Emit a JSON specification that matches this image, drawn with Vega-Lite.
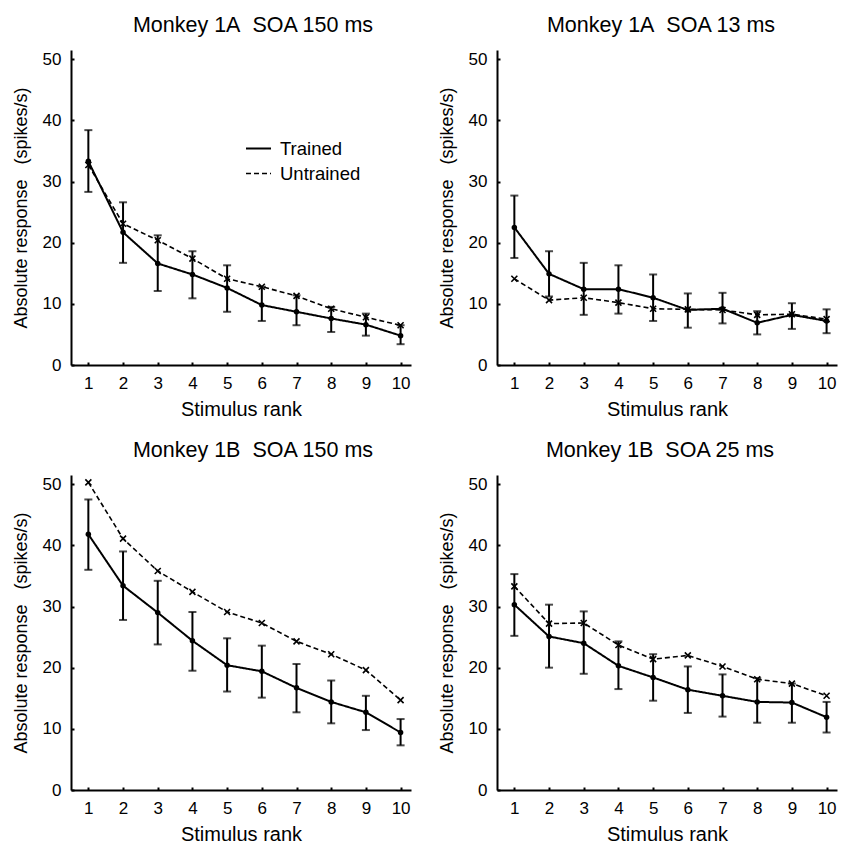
{
  "$schema": "https://vega.github.io/schema/vega-lite/v6.json",
  "background": "white",
  "padding": {"left": 12, "top": 14, "right": 2, "bottom": 2},
  "columns": 2,
  "spacing": {"row": 20, "column": 27},
  "data": {"values": [
    {"p":"a","x":1,"g":"Trained","y":33.3,"lo":28.3,"hi":38.4},
    {"p":"a","x":2,"g":"Trained","y":21.7,"lo":16.7,"hi":26.6},
    {"p":"a","x":3,"g":"Trained","y":16.6,"lo":12.1,"hi":21.2},
    {"p":"a","x":4,"g":"Trained","y":14.8,"lo":10.9,"hi":18.6},
    {"p":"a","x":5,"g":"Trained","y":12.6,"lo":8.7,"hi":16.3},
    {"p":"a","x":6,"g":"Trained","y":9.8,"lo":7.2,"hi":12.8},
    {"p":"a","x":7,"g":"Trained","y":8.7,"lo":6.5,"hi":11.4},
    {"p":"a","x":8,"g":"Trained","y":7.6,"lo":5.4,"hi":9.5},
    {"p":"a","x":9,"g":"Trained","y":6.6,"lo":4.8,"hi":8.4},
    {"p":"a","x":10,"g":"Trained","y":4.8,"lo":3.4,"hi":6.5},
    {"p":"a","x":1,"g":"Untrained","y":32.7},
    {"p":"a","x":2,"g":"Untrained","y":23.1},
    {"p":"a","x":3,"g":"Untrained","y":20.4},
    {"p":"a","x":4,"g":"Untrained","y":17.4},
    {"p":"a","x":5,"g":"Untrained","y":14.1},
    {"p":"a","x":6,"g":"Untrained","y":12.8},
    {"p":"a","x":7,"g":"Untrained","y":11.3},
    {"p":"a","x":8,"g":"Untrained","y":9.2},
    {"p":"a","x":9,"g":"Untrained","y":7.8},
    {"p":"a","x":10,"g":"Untrained","y":6.5},
    {"p":"b","x":1,"g":"Trained","y":22.5,"lo":17.5,"hi":27.7},
    {"p":"b","x":2,"g":"Trained","y":14.9,"lo":11.2,"hi":18.6},
    {"p":"b","x":3,"g":"Trained","y":12.4,"lo":8.2,"hi":16.7},
    {"p":"b","x":4,"g":"Trained","y":12.4,"lo":8.4,"hi":16.3},
    {"p":"b","x":5,"g":"Trained","y":11.0,"lo":7.2,"hi":14.8},
    {"p":"b","x":6,"g":"Trained","y":9.0,"lo":6.1,"hi":11.7},
    {"p":"b","x":7,"g":"Trained","y":9.2,"lo":6.8,"hi":11.8},
    {"p":"b","x":8,"g":"Trained","y":6.9,"lo":5.0,"hi":8.8},
    {"p":"b","x":9,"g":"Trained","y":8.2,"lo":5.9,"hi":10.1},
    {"p":"b","x":10,"g":"Trained","y":7.2,"lo":5.2,"hi":9.1},
    {"p":"b","x":1,"g":"Untrained","y":14.1},
    {"p":"b","x":2,"g":"Untrained","y":10.6},
    {"p":"b","x":3,"g":"Untrained","y":11.0},
    {"p":"b","x":4,"g":"Untrained","y":10.2},
    {"p":"b","x":5,"g":"Untrained","y":9.2},
    {"p":"b","x":6,"g":"Untrained","y":9.1},
    {"p":"b","x":7,"g":"Untrained","y":9.0},
    {"p":"b","x":8,"g":"Untrained","y":8.2},
    {"p":"b","x":9,"g":"Untrained","y":8.3},
    {"p":"b","x":10,"g":"Untrained","y":7.5},
    {"p":"c","x":1,"g":"Trained","y":41.8,"lo":36.0,"hi":47.5},
    {"p":"c","x":2,"g":"Trained","y":33.4,"lo":27.8,"hi":39.0},
    {"p":"c","x":3,"g":"Trained","y":29.0,"lo":23.8,"hi":34.2},
    {"p":"c","x":4,"g":"Trained","y":24.4,"lo":19.5,"hi":29.1},
    {"p":"c","x":5,"g":"Trained","y":20.4,"lo":16.1,"hi":24.8},
    {"p":"c","x":6,"g":"Trained","y":19.4,"lo":15.1,"hi":23.6},
    {"p":"c","x":7,"g":"Trained","y":16.7,"lo":12.7,"hi":20.6},
    {"p":"c","x":8,"g":"Trained","y":14.4,"lo":10.9,"hi":17.9},
    {"p":"c","x":9,"g":"Trained","y":12.7,"lo":9.8,"hi":15.4},
    {"p":"c","x":10,"g":"Trained","y":9.4,"lo":7.3,"hi":11.6},
    {"p":"c","x":1,"g":"Untrained","y":50.3},
    {"p":"c","x":2,"g":"Untrained","y":41.1},
    {"p":"c","x":3,"g":"Untrained","y":35.8},
    {"p":"c","x":4,"g":"Untrained","y":32.4},
    {"p":"c","x":5,"g":"Untrained","y":29.1},
    {"p":"c","x":6,"g":"Untrained","y":27.3},
    {"p":"c","x":7,"g":"Untrained","y":24.3},
    {"p":"c","x":8,"g":"Untrained","y":22.2},
    {"p":"c","x":9,"g":"Untrained","y":19.6},
    {"p":"c","x":10,"g":"Untrained","y":14.7},
    {"p":"d","x":1,"g":"Trained","y":30.3,"lo":25.2,"hi":35.3},
    {"p":"d","x":2,"g":"Trained","y":25.1,"lo":20.0,"hi":30.3},
    {"p":"d","x":3,"g":"Trained","y":24.0,"lo":19.0,"hi":29.2},
    {"p":"d","x":4,"g":"Trained","y":20.3,"lo":16.5,"hi":24.3},
    {"p":"d","x":5,"g":"Trained","y":18.4,"lo":14.6,"hi":22.2},
    {"p":"d","x":6,"g":"Trained","y":16.4,"lo":12.6,"hi":20.2},
    {"p":"d","x":7,"g":"Trained","y":15.4,"lo":12.0,"hi":18.9},
    {"p":"d","x":8,"g":"Trained","y":14.4,"lo":11.0,"hi":18.3},
    {"p":"d","x":9,"g":"Trained","y":14.3,"lo":11.0,"hi":17.4},
    {"p":"d","x":10,"g":"Trained","y":11.9,"lo":9.4,"hi":14.4},
    {"p":"d","x":1,"g":"Untrained","y":33.3},
    {"p":"d","x":2,"g":"Untrained","y":27.2},
    {"p":"d","x":3,"g":"Untrained","y":27.3},
    {"p":"d","x":4,"g":"Untrained","y":23.7},
    {"p":"d","x":5,"g":"Untrained","y":21.4},
    {"p":"d","x":6,"g":"Untrained","y":22.0},
    {"p":"d","x":7,"g":"Untrained","y":20.2},
    {"p":"d","x":8,"g":"Untrained","y":18.1},
    {"p":"d","x":9,"g":"Untrained","y":17.4},
    {"p":"d","x":10,"g":"Untrained","y":15.4}
  ]},
  "resolve": {"scale": {"strokeDash": "independent", "strokeWidth": "independent"}, "legend": {"strokeDash": "independent"}},
  "concat": [
    {
      "width": 340, "height": 315,
      "title": {"text": "Monkey 1A\u00a0\u00a0SOA 150 ms", "dx": 12},
      "transform": [{"filter": "datum.p === 'a'"}],
      "encoding": {
        "x": {"field": "x", "type": "quantitative", "scale": {"domain": [0.5, 10.3], "nice": false, "zero": false}, "axis": {"values": [1,2,3,4,5,6,7,8,9,10], "title": "Stimulus rank"}}
      },
      "layer": [
        {"mark": {"type": "line", "color": "black"},
         "encoding": {
           "y": {"field": "y", "type": "quantitative", "title": "Absolute response\u00a0\u00a0\u00a0(spikes/s)", "scale": {"domain": [0, 51.5], "nice": false}, "axis": {"values": [0,10,20,30,40,50]}},
           "strokeDash": {"field": "g", "type": "nominal", "scale": {"domain": ["Trained","Untrained"], "range": [[1,0],[5,3]]},
             "legend": {"orient": "none", "legendX": 174, "legendY": 85, "title": null, "symbolType": "stroke", "symbolSize": 625, "symbolStrokeWidth": 2, "symbolStrokeColor": "black", "labelFont": "Liberation Sans", "labelFontSize": 18.5, "labelColor": "black", "labelOffset": 8, "rowPadding": 2}},
           "strokeWidth": {"field": "g", "type": "nominal", "scale": {"domain": ["Trained","Untrained"], "range": [2, 1.6]}, "legend": null}
         }},
        {"transform": [{"filter": "datum.g === 'Trained'"}],
         "mark": {"type": "errorbar", "ticks": {"size": 8}, "thickness": 2, "color": "black"},
         "encoding": {"y": {"field": "lo", "type": "quantitative", "title": "Absolute response\u00a0\u00a0\u00a0(spikes/s)"}, "y2": {"field": "hi"}}},
        {"transform": [{"filter": "datum.g === 'Trained'"}],
         "mark": {"type": "point", "filled": true, "shape": "circle", "size": 30, "color": "black", "opacity": 1},
         "encoding": {"y": {"field": "y", "type": "quantitative", "title": "Absolute response\u00a0\u00a0\u00a0(spikes/s)"}}},
        {"transform": [{"filter": "datum.g === 'Untrained'"}],
         "mark": {"type": "point", "filled": false, "shape": "M-1,-1L1,1M-1,1L1,-1", "size": 36, "strokeWidth": 1.6, "color": "black", "opacity": 1},
         "encoding": {"y": {"field": "y", "type": "quantitative", "title": "Absolute response\u00a0\u00a0\u00a0(spikes/s)"}}}
      ]
    },
    {
      "width": 340, "height": 315,
      "title": {"text": "Monkey 1A\u00a0\u00a0SOA 13 ms", "dx": -6},
      "transform": [{"filter": "datum.p === 'b'"}],
      "encoding": {
        "x": {"field": "x", "type": "quantitative", "scale": {"domain": [0.5, 10.3], "nice": false, "zero": false}, "axis": {"values": [1,2,3,4,5,6,7,8,9,10], "title": "Stimulus rank"}}
      },
      "layer": [
        {"mark": {"type": "line", "color": "black"},
         "encoding": {
           "y": {"field": "y", "type": "quantitative", "title": "Absolute response\u00a0\u00a0\u00a0(spikes/s)", "scale": {"domain": [0, 51.5], "nice": false}, "axis": {"values": [0,10,20,30,40,50]}},
           "strokeDash": {"field": "g", "type": "nominal", "scale": {"domain": ["Trained","Untrained"], "range": [[1,0],[5,3]]}, "legend": null},
           "strokeWidth": {"field": "g", "type": "nominal", "scale": {"domain": ["Trained","Untrained"], "range": [2, 1.6]}, "legend": null}
         }},
        {"transform": [{"filter": "datum.g === 'Trained'"}],
         "mark": {"type": "errorbar", "ticks": {"size": 8}, "thickness": 2, "color": "black"},
         "encoding": {"y": {"field": "lo", "type": "quantitative", "title": "Absolute response\u00a0\u00a0\u00a0(spikes/s)"}, "y2": {"field": "hi"}}},
        {"transform": [{"filter": "datum.g === 'Trained'"}],
         "mark": {"type": "point", "filled": true, "shape": "circle", "size": 30, "color": "black", "opacity": 1},
         "encoding": {"y": {"field": "y", "type": "quantitative", "title": "Absolute response\u00a0\u00a0\u00a0(spikes/s)"}}},
        {"transform": [{"filter": "datum.g === 'Untrained'"}],
         "mark": {"type": "point", "filled": false, "shape": "M-1,-1L1,1M-1,1L1,-1", "size": 36, "strokeWidth": 1.6, "color": "black", "opacity": 1},
         "encoding": {"y": {"field": "y", "type": "quantitative", "title": "Absolute response\u00a0\u00a0\u00a0(spikes/s)"}}}
      ]
    },
    {
      "width": 340, "height": 315,
      "title": {"text": "Monkey 1B\u00a0\u00a0SOA 150 ms", "dx": 12},
      "transform": [{"filter": "datum.p === 'c'"}],
      "encoding": {
        "x": {"field": "x", "type": "quantitative", "scale": {"domain": [0.5, 10.3], "nice": false, "zero": false}, "axis": {"values": [1,2,3,4,5,6,7,8,9,10], "title": "Stimulus rank"}}
      },
      "layer": [
        {"mark": {"type": "line", "color": "black"},
         "encoding": {
           "y": {"field": "y", "type": "quantitative", "title": "Absolute response\u00a0\u00a0\u00a0(spikes/s)", "scale": {"domain": [0, 51.5], "nice": false}, "axis": {"values": [0,10,20,30,40,50]}},
           "strokeDash": {"field": "g", "type": "nominal", "scale": {"domain": ["Trained","Untrained"], "range": [[1,0],[5,3]]}, "legend": null},
           "strokeWidth": {"field": "g", "type": "nominal", "scale": {"domain": ["Trained","Untrained"], "range": [2, 1.6]}, "legend": null}
         }},
        {"transform": [{"filter": "datum.g === 'Trained'"}],
         "mark": {"type": "errorbar", "ticks": {"size": 8}, "thickness": 2, "color": "black"},
         "encoding": {"y": {"field": "lo", "type": "quantitative", "title": "Absolute response\u00a0\u00a0\u00a0(spikes/s)"}, "y2": {"field": "hi"}}},
        {"transform": [{"filter": "datum.g === 'Trained'"}],
         "mark": {"type": "point", "filled": true, "shape": "circle", "size": 30, "color": "black", "opacity": 1},
         "encoding": {"y": {"field": "y", "type": "quantitative", "title": "Absolute response\u00a0\u00a0\u00a0(spikes/s)"}}},
        {"transform": [{"filter": "datum.g === 'Untrained'"}],
         "mark": {"type": "point", "filled": false, "shape": "M-1,-1L1,1M-1,1L1,-1", "size": 36, "strokeWidth": 1.6, "color": "black", "opacity": 1},
         "encoding": {"y": {"field": "y", "type": "quantitative", "title": "Absolute response\u00a0\u00a0\u00a0(spikes/s)"}}}
      ]
    },
    {
      "width": 340, "height": 315,
      "title": {"text": "Monkey 1B\u00a0\u00a0SOA 25 ms", "dx": -7},
      "transform": [{"filter": "datum.p === 'd'"}],
      "encoding": {
        "x": {"field": "x", "type": "quantitative", "scale": {"domain": [0.5, 10.3], "nice": false, "zero": false}, "axis": {"values": [1,2,3,4,5,6,7,8,9,10], "title": "Stimulus rank"}}
      },
      "layer": [
        {"mark": {"type": "line", "color": "black"},
         "encoding": {
           "y": {"field": "y", "type": "quantitative", "title": "Absolute response\u00a0\u00a0\u00a0(spikes/s)", "scale": {"domain": [0, 51.5], "nice": false}, "axis": {"values": [0,10,20,30,40,50]}},
           "strokeDash": {"field": "g", "type": "nominal", "scale": {"domain": ["Trained","Untrained"], "range": [[1,0],[5,3]]}, "legend": null},
           "strokeWidth": {"field": "g", "type": "nominal", "scale": {"domain": ["Trained","Untrained"], "range": [2, 1.6]}, "legend": null}
         }},
        {"transform": [{"filter": "datum.g === 'Trained'"}],
         "mark": {"type": "errorbar", "ticks": {"size": 8}, "thickness": 2, "color": "black"},
         "encoding": {"y": {"field": "lo", "type": "quantitative", "title": "Absolute response\u00a0\u00a0\u00a0(spikes/s)"}, "y2": {"field": "hi"}}},
        {"transform": [{"filter": "datum.g === 'Trained'"}],
         "mark": {"type": "point", "filled": true, "shape": "circle", "size": 30, "color": "black", "opacity": 1},
         "encoding": {"y": {"field": "y", "type": "quantitative", "title": "Absolute response\u00a0\u00a0\u00a0(spikes/s)"}}},
        {"transform": [{"filter": "datum.g === 'Untrained'"}],
         "mark": {"type": "point", "filled": false, "shape": "M-1,-1L1,1M-1,1L1,-1", "size": 36, "strokeWidth": 1.6, "color": "black", "opacity": 1},
         "encoding": {"y": {"field": "y", "type": "quantitative", "title": "Absolute response\u00a0\u00a0\u00a0(spikes/s)"}}}
      ]
    }
  ],
  "config": {
    "font": "Liberation Sans",
    "view": {"stroke": null},
    "title": {"font": "Liberation Sans", "fontSize": 21.5, "fontWeight": "normal", "color": "black", "offset": 14, "anchor": "middle"},
    "axis": {
      "grid": false,
      "domainColor": "black", "domainWidth": 2,
      "tickColor": "black", "tickWidth": 2, "tickSize": -3,
      "labelFont": "Liberation Sans", "labelFontSize": 17, "labelColor": "black", "labelPadding": 13,
      "titleFont": "Liberation Sans", "titleFontSize": 20, "titleFontWeight": "normal", "titleColor": "black"
    },
    "axisY": {"titleFontSize": 18, "titlePadding": 12},
    "axisX": {"titlePadding": 8}
  }
}
